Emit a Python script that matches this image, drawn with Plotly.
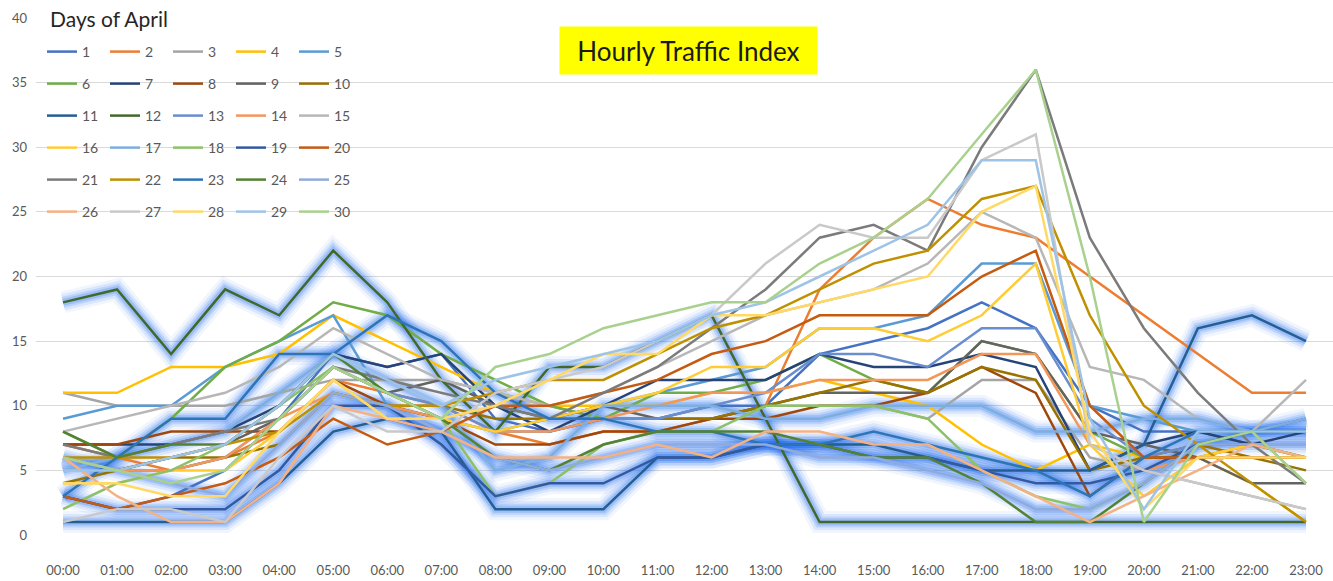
import plotly.graph_objects as go

hours = ["00:00", "01:00", "02:00", "03:00", "04:00", "05:00", "06:00", "07:00",
         "08:00", "09:00", "10:00", "11:00", "12:00", "13:00", "14:00", "15:00",
         "16:00", "17:00", "18:00", "19:00", "20:00", "21:00", "22:00", "23:00"]

day_1 = [3, 2, 3, 5, 9, 14, 13, 14, 9, 8, 9, 9, 10, 10, 14, 15, 16, 18, 16, 10, 8, 8, 8, 9]
day_2 = [7, 6, 5, 6, 8, 12, 11, 10, 8, 7, 8, 8, 9, 10, 19, 23, 26, 24, 23, 20, 17, 14, 11, 11]
day_3 = [11, 10, 10, 10, 11, 12, 12, 12, 11, 10, 9, 9, 9, 10, 10, 10, 9, 12, 12, 6, 5, 4, 3, 2]
day_4 = [11, 11, 13, 13, 14, 17, 15, 13, 11, 10, 10, 10, 11, 11, 12, 11, 10, 7, 5, 7, 6, 6, 4, 1]
day_5 = [9, 10, 10, 13, 15, 17, 10, 9, 8, 9, 10, 11, 12, 13, 16, 16, 17, 21, 21, 10, 9, 8, 7, 7]
day_6 = [8, 6, 9, 13, 15, 18, 17, 14, 12, 10, 9, 11, 11, 12, 14, 12, 11, 15, 14, 8, 6, 6, 7, 7]
day_7 = [7, 7, 7, 8, 10, 14, 13, 14, 10, 8, 10, 12, 12, 12, 14, 13, 13, 14, 13, 5, 7, 8, 7, 8]
day_8 = [7, 7, 8, 8, 8, 12, 10, 9, 7, 7, 8, 8, 9, 9, 10, 10, 11, 13, 11, 3, 6, 6, 6, 6]
day_9 = [6, 5, 6, 7, 9, 13, 11, 12, 10, 9, 10, 9, 9, 10, 11, 11, 11, 15, 14, 8, 7, 6, 4, 4]
day_10 = [4, 5, 6, 6, 7, 11, 10, 10, 9, 9, 9, 9, 9, 10, 11, 12, 11, 13, 12, 5, 6, 7, 6, 5]
day_11 = [1, 1, 1, 1, 4, 8, 9, 8, 2, 2, 2, 6, 6, 7, 7, 7, 6, 5, 5, 5, 7, 16, 17, 15]
day_12 = [18, 19, 14, 19, 17, 22, 18, 12, 8, 13, 13, 15, 17, 9, 1, 1, 1, 1, 1, 1, 1, 1, 1, 1]
day_13 = [6, 5, 5, 6, 9, 13, 11, 10, 8, 8, 9, 9, 10, 11, 14, 14, 13, 16, 16, 9, 6, 7, 7, 7]
day_14 = [6, 5, 5, 6, 9, 11, 10, 9, 8, 8, 9, 10, 11, 11, 12, 12, 12, 14, 14, 7, 5, 6, 7, 7]
day_15 = [8, 9, 10, 11, 13, 16, 14, 12, 11, 10, 11, 13, 15, 17, 18, 19, 21, 25, 23, 13, 12, 9, 8, 12]
day_16 = [4, 4, 5, 5, 8, 12, 9, 9, 8, 9, 10, 11, 13, 13, 16, 16, 15, 17, 21, 7, 3, 6, 7, 6]
day_17 = [5, 6, 7, 8, 11, 14, 12, 10, 5, 6, 10, 10, 10, 9, 9, 10, 10, 10, 8, 8, 9, 9, 8, 9]
day_18 = [2, 4, 5, 7, 10, 13, 11, 9, 3, 4, 7, 8, 8, 10, 10, 10, 9, 5, 3, 2, 4, 7, 8, 4]
day_19 = [3, 2, 2, 2, 5, 10, 10, 7, 3, 4, 4, 6, 6, 7, 7, 6, 6, 5, 4, 4, 5, 7, 8, 8]
day_20 = [3, 2, 3, 4, 6, 9, 7, 8, 10, 10, 11, 12, 14, 15, 17, 17, 17, 20, 22, 10, 6, 6, 6, 6]
day_21 = [7, 6, 7, 8, 9, 13, 12, 11, 10, 9, 11, 13, 16, 19, 23, 24, 22, 30, 36, 23, 16, 11, 7, 4]
day_22 = [6, 6, 6, 7, 8, 11, 10, 10, 11, 12, 12, 14, 16, 17, 19, 21, 22, 26, 27, 17, 10, 7, 4, 1]
day_23 = [3, 6, 9, 9, 14, 14, 17, 15, 11, 9, 9, 8, 8, 7, 7, 8, 7, 6, 5, 3, 6, 8, 8, 8]
day_24 = [8, 6, 7, 7, 10, 14, 11, 9, 6, 5, 7, 8, 8, 8, 7, 6, 6, 4, 1, 1, 4, 7, 7, 6]
day_25 = [6, 5, 4, 3, 7, 11, 10, 8, 6, 5, 6, 7, 7, 7, 6, 6, 5, 4, 2, 2, 4, 7, 7, 7]
day_26 = [6, 3, 1, 1, 4, 10, 9, 8, 6, 6, 6, 7, 6, 8, 8, 7, 7, 5, 3, 1, 3, 5, 7, 6]
day_27 = [1, 2, 2, 1, 6, 10, 8, 8, 11, 12, 13, 15, 17, 21, 24, 23, 23, 29, 31, 7, 5, 4, 3, 2]
day_28 = [4, 4, 3, 3, 8, 12, 9, 9, 10, 12, 14, 14, 17, 17, 18, 19, 20, 25, 27, 8, 2, 6, 6, 6]
day_29 = [5, 5, 6, 7, 10, 14, 12, 10, 12, 13, 14, 15, 17, 18, 20, 22, 24, 29, 29, 9, 2, 8, 8, 8]
day_30 = [6, 5, 4, 5, 9, 13, 11, 9, 13, 14, 16, 17, 18, 18, 21, 23, 26, 31, 36, 20, 1, 7, 8, 4]

series = [day_1, day_2, day_3, day_4, day_5, day_6, day_7, day_8, day_9, day_10,
          day_11, day_12, day_13, day_14, day_15, day_16, day_17, day_18, day_19, day_20,
          day_21, day_22, day_23, day_24, day_25, day_26, day_27, day_28, day_29, day_30]
day_names = [str(i) for i in range(1, 31)]

colors = ["#4472C4", "#ED7D31", "#A5A5A5", "#FFC000", "#5B9BD5", "#70AD47",
          "#264478", "#9E480E", "#636363", "#997300", "#255E91", "#43682B",
          "#698ED0", "#F1975A", "#B7B7B7", "#FFCD33", "#7CAFDD", "#8CC168",
          "#335AA1", "#C55A11", "#7B7B7B", "#BF9000", "#2E75B6", "#548235",
          "#8FAADC", "#F4B183", "#C9C9C9", "#FFD966", "#9DC3E6", "#A9D18E"]

glow_days = ["11", "12", "17", "19", "23", "25"]

FONT = "Lato"
fig = go.Figure()

# soft glow layers underneath
for name, vals in zip(day_names, series):
    if name in glow_days:
        for w, a in [(22, 0.07), (16, 0.11), (11, 0.16), (7, 0.22)]:
            fig.add_trace(go.Scatter(x=hours, y=vals, mode="lines",
                                     line=dict(color=f"rgba(40,112,240,{a})", width=w),
                                     showlegend=False, hoverinfo="skip"))

for i, (name, vals) in enumerate(zip(day_names, series)):
    row = i // 5
    lg = "legend" if row == 0 else f"legend{row + 1}"
    fig.add_trace(go.Scatter(x=hours, y=vals, mode="lines", name=name,
                             line=dict(color=colors[i], width=2.5),
                             legend=lg))

L, R, T, B = 36, 0, 18, 46
W, H = 1333, 581
pw, ph = W - L - R, H - T - B

def px_x(x):
    return (x - L) / pw

def px_y(y):
    return (H - B - y) / ph

layout_legends = {}
for r in range(6):
    key = "legend" if r == 0 else f"legend{r + 1}"
    layout_legends[key] = dict(
        orientation="h", x=px_x(42), xanchor="left",
        y=px_y(52 + 32 * r), yanchor="middle",
        entrywidth=18, entrywidthmode="pixels",
        font=dict(family=FONT, size=14, color="#595959"),
        bgcolor="rgba(0,0,0,0)", itemwidth=30, tracegroupgap=0,
    )

fig.update_layout(
    width=W, height=H,
    margin=dict(l=L, r=R, t=T, b=B, autoexpand=False),
    paper_bgcolor="white", plot_bgcolor="white",
    font=dict(family=FONT, color="#595959"),
    showlegend=True,
    **layout_legends,
)

fig.update_xaxes(type="category", range=[-0.5, 23.5], showgrid=False, zeroline=False,
                 showline=False, ticks="", ticklabelstandoff=26, automargin=False,
                 tickfont=dict(family=FONT, size=13, color="#595959"))
fig.update_yaxes(range=[0, 40], dtick=5, showgrid=True, gridcolor="#D9D9D9", gridwidth=1,
                 zeroline=False, showline=False, ticks="", ticklabelstandoff=8,
                 automargin=False,
                 tickfont=dict(family=FONT, size=13, color="#595959"))

fig.add_annotation(text="Hourly Traffic Index", xref="paper", yref="paper",
                   x=px_x(688.5), y=px_y(50.5), xanchor="center", yanchor="middle",
                   showarrow=False, bgcolor="#FFFF00", width=255, height=45,
                   font=dict(family=FONT, size=26, color="#1a1a1a"))
fig.add_annotation(text="Days of April", xref="paper", yref="paper",
                   x=px_x(48), y=px_y(18), xanchor="left", yanchor="middle",
                   showarrow=False,
                   font=dict(family=FONT, size=21, color="#262626"))

fig.write_html("out.html", config={"displayModeBar": False},
               post_script="document.body.style.margin='0';document.body.style.overflow='hidden';")
